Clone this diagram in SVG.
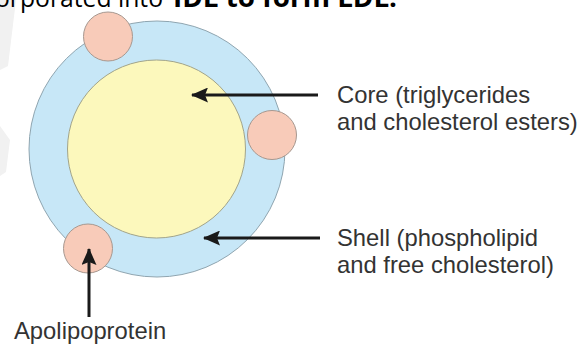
<svg xmlns="http://www.w3.org/2000/svg" width="579" height="349" viewBox="0 0 579 349">
<style>
.lbl{font-family:"Liberation Sans",Arial,sans-serif;font-size:23.8px;fill:#333}
.top{font-family:"Open Sans","Liberation Sans",sans-serif;font-size:26px;fill:#000}
.apo{fill:#f8cbb9;stroke:#a69890;stroke-width:1}
.conn{stroke:#1a1a1a;stroke-width:3;fill:none}
</style>
<defs>
<marker id="ah" markerUnits="userSpaceOnUse" markerWidth="17" markerHeight="15" viewBox="0 0 17 15" refX="16" refY="7.5" orient="auto">
<path d="M0,0 L17,7.5 L0,15 L3,7.5 Z" fill="#1a1a1a"/>
</marker>
</defs>
<rect width="579" height="349" fill="#fff"/>
<polygon points="0,0 16,0 8,66 0,70" fill="#f1f1f1"/>
<polygon points="0,126 10,140 6,172 0,176" fill="#f1f1f1"/>
<text class="top" x="-5" y="7" textLength="168" lengthAdjust="spacingAndGlyphs">orporated into</text>
<text class="top" x="173" y="7" font-weight="bold" textLength="224" lengthAdjust="spacingAndGlyphs">IDL to form LDL.</text>
<g id="shell"><circle cx="157" cy="149" r="128" fill="#c7e7f7" stroke="#8fa5b0" stroke-width="1"/></g>
<g id="core"><circle cx="156.5" cy="149" r="89" fill="#fcf8bc" stroke="#a2a48a" stroke-width="1"/></g>
<g id="apo1"><circle class="apo" cx="108" cy="36.5" r="24.5"/></g>
<g id="apo2"><circle class="apo" cx="272" cy="135" r="24.5"/></g>
<g id="apo3"><circle class="apo" cx="88" cy="248.5" r="24.5"/></g>
<g id="connectors">
<line class="conn" x1="318" y1="95" x2="192" y2="95" marker-end="url(#ah)"/>
<line class="conn" x1="320" y1="238" x2="204" y2="238" marker-end="url(#ah)"/>
<line class="conn" x1="89" y1="317" x2="89" y2="249" marker-end="url(#ah)"/>
</g>
<g id="label-core"><text class="lbl" x="337" y="103">Core (triglycerides</text><text class="lbl" x="337" y="130">and cholesterol esters)</text></g>
<g id="label-shell"><text class="lbl" x="337" y="245.5">Shell (phospholipid</text><text class="lbl" x="337" y="272.5">and free cholesterol)</text></g>
<g id="label-apo"><text class="lbl" x="14" y="339">Apolipoprotein</text></g>
</svg>
